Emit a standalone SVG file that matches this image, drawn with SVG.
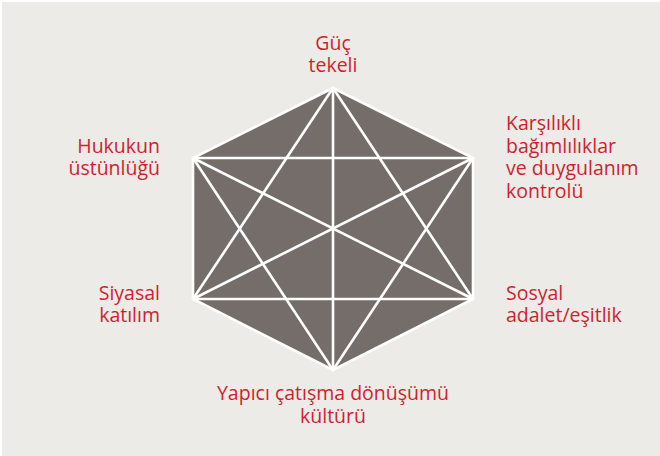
<svg xmlns="http://www.w3.org/2000/svg" width="660" height="456" viewBox="0 0 660 456">
<style>
.lbl{font-family:"Open Sans","Noto Sans","Liberation Sans",sans-serif;font-size:19.5px;fill:#cf1f2e}
.edge{stroke:#ffffff;stroke-width:2.6;fill:none;stroke-linecap:round}
</style>
<rect x="0" y="0" width="660" height="456" fill="#ffffff"/>
<rect x="2" y="2" width="658" height="454" fill="#edebe7"/>
<g id="hexagon">
<polygon points="333,88 473,158 473,299 333,370 193,299 193,158" fill="#756d69" stroke="#ffffff" stroke-width="2.6" stroke-linejoin="miter"/>
</g>
<g id="connectors">
<line class="edge" x1="333" y1="88" x2="473" y2="299"/>
<line class="edge" x1="333" y1="88" x2="333" y2="370"/>
<line class="edge" x1="333" y1="88" x2="193" y2="299"/>
<line class="edge" x1="473" y1="158" x2="333" y2="370"/>
<line class="edge" x1="473" y1="158" x2="193" y2="299"/>
<line class="edge" x1="473" y1="158" x2="193" y2="158"/>
<line class="edge" x1="473" y1="299" x2="193" y2="299"/>
<line class="edge" x1="473" y1="299" x2="193" y2="158"/>
<line class="edge" x1="333" y1="370" x2="193" y2="158"/>
</g>
<g id="n-guc">
<text class="lbl" x="333" y="50" text-anchor="middle">Güç</text>
<text class="lbl" x="333" y="72" text-anchor="middle">tekeli</text>
</g>
<g id="n-karsilikli">
<text class="lbl" x="506" y="130">Karşılıklı</text>
<text class="lbl" x="506" y="152.5">bağımlılıklar</text>
<text class="lbl" x="506" y="175">ve duygulanım</text>
<text class="lbl" x="506" y="197.5">kontrolü</text>
</g>
<g id="n-sosyal">
<text class="lbl" x="506" y="300">Sosyal</text>
<text class="lbl" x="506" y="322">adalet/eşitlik</text>
</g>
<g id="n-yapici">
<text class="lbl" x="333" y="400" text-anchor="middle">Yapıcı çatışma dönüşümü</text>
<text class="lbl" x="333" y="423" text-anchor="middle">kültürü</text>
</g>
<g id="n-siyasal">
<text class="lbl" x="160" y="300" text-anchor="end">Siyasal</text>
<text class="lbl" x="160" y="322" text-anchor="end">katılım</text>
</g>
<g id="n-hukukun">
<text class="lbl" x="160" y="153" text-anchor="end">Hukukun</text>
<text class="lbl" x="160" y="175" text-anchor="end">üstünlüğü</text>
</g>
</svg>
